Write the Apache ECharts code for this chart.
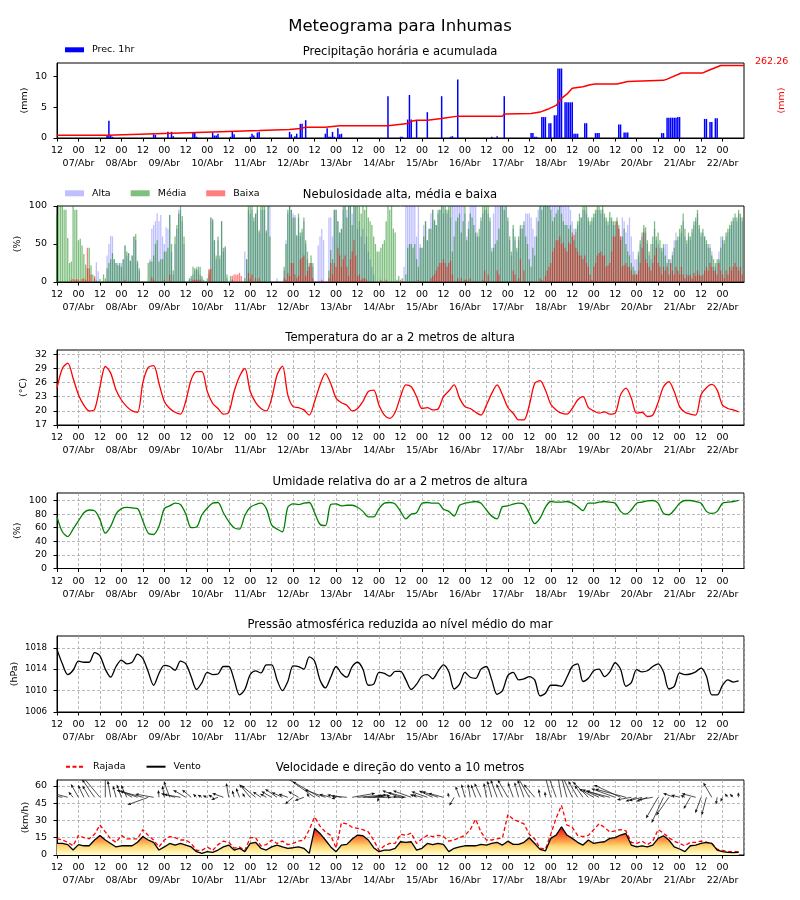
<!DOCTYPE html>
<html><head><meta charset="utf-8">
<script src="https://cdn.jsdelivr.net/npm/echarts@6/dist/echarts.min.js"></script>
<style>html,body{margin:0;padding:0;background:#fff}#c{width:800px;height:900px}</style>
</head><body><div id="c"></div>
<script>
// ---------------- DATA ----------------
const MAXH = 384;            // hours from 06/Abr 12:00
const STEP = 3;              // hours between samples of the line series
const hourLabels = ['12', '00'];
const dateLabels = ['07/Abr','08/Abr','09/Abr','10/Abr','11/Abr','12/Abr','13/Abr','14/Abr','15/Abr','16/Abr','17/Abr','18/Abr','19/Abr','20/Abr','21/Abr','22/Abr'];
const yTicksPrec = [0, 5, 10];
const yTicksCloud = [0, 50, 100];
const yTicksTemp = [17, 20, 23, 26, 29, 32];
const yTicksHum = [0, 20, 40, 60, 80, 100];
const yTicksPres = [1006, 1010, 1014, 1018];
const yTicksWind = [0, 15, 30, 45, 60];

const precipHours = [28,29,30,31,54,55,62,64,65,76,77,78,87,88,89,90,97,98,99,108,109,110,112,113,130,131,133,134,136,137,139,150,151,152,153,154,155,157,158,159,185,192,193,196,197,198,201,207,215,220,221,224,243,246,250,265,266,267,268,271,272,273,275,276,278,279,280,281,282,284,285,286,287,288,289,290,291,295,296,301,302,303,314,315,317,318,319,338,339,341,342,343,344,345,346,347,348,362,363,365,366,368,369];
const precipValues = [0.5,2.8,0.5,0.2,0.6,0.5,1.0,1.0,0.3,0.8,0.9,0.2,0.9,0.4,0.4,0.7,0.2,1.0,0.6,0.2,0.7,0.4,0.9,1.0,1.0,0.6,0.3,0.7,2.3,2.3,2.9,0.7,1.6,0.2,0.2,1.0,0.2,1.6,0.6,0.7,6.8,0.2,0.2,3.0,7.0,3.0,2.9,4.2,6.8,0.2,0.3,9.5,0.2,0.3,6.8,0.8,0.8,0.2,0.2,3.4,3.4,3.4,2.4,2.4,3.7,3.7,11.3,11.3,11.3,5.8,5.8,5.8,5.8,5.8,0.7,0.7,0.7,2.4,2.4,0.8,0.8,0.8,2.2,2.2,0.9,0.9,0.9,0.8,0.8,3.3,3.3,3.3,3.3,3.3,3.3,3.4,3.4,3.1,3.1,2.6,2.6,3.2,3.2];
const accumHours = [0,28,29,87,113,130,136,139,150,158,185,186,196,198,201,207,215,224,249,250,265,270,275,279,282,285,288,294,298,301,313,319,339,341,349,361,364,371,384];
const accumValues = [0,0,5.1,12.8,17.9,21.6,25.4,30.5,30.5,35.6,35.6,41.9,44.4,52.8,57,57,63.3,72.1,72.1,79.8,82.3,87.2,100,112.6,138.9,154.5,177,182.1,189.8,192.4,192.4,202.4,206.3,211,234.2,234.2,243.5,262.26,262.26];

// hourly cloud cover (%), one row per day starting 06/Abr 12h
const cloudHigh = [
0,0,0,0,0,0,0,0,0,0,0,0,0,0,0,0,0,0,0,0,0,0,26,14,
0,0,0,0,35,50,61,60,30,25,25,22,25,30,48,35,38,28,35,60,55,25,15,0,
0,0,0,0,30,70,75,80,90,80,88,60,50,72,70,88,40,10,50,70,95,95,80,50,
0,0,3,5,10,15,20,15,10,5,0,0,0,10,85,80,55,30,55,30,80,40,45,5,
0,0,0,0,0,0,0,0,0,40,30,95,90,95,80,90,95,65,95,95,95,65,100,100,
0,0,0,5,0,0,0,15,55,90,100,95,90,88,60,85,60,65,80,50,30,20,25,20,
0,0,48,60,70,55,0,0,85,85,60,95,95,80,65,70,95,100,95,100,100,90,100,100,
70,80,60,70,50,60,40,30,20,10,0,0,0,0,0,0,0,0,0,0,0,0,0,0,
0,0,20,100,100,100,100,100,100,60,100,50,45,75,80,55,70,90,95,80,75,90,95,100,
90,95,90,95,85,100,100,100,100,100,100,100,90,60,80,100,100,100,100,65,60,80,90,95,
95,90,80,45,90,100,100,100,100,100,100,100,80,55,35,70,55,40,55,70,75,75,90,90,
90,85,70,60,85,95,100,100,100,100,100,100,100,100,100,100,100,100,100,100,100,100,100,95,
80,70,65,75,80,85,95,95,90,80,75,80,85,90,95,95,90,95,85,80,75,85,80,75,
75,80,70,60,85,80,65,75,85,60,40,30,30,35,50,60,70,65,50,35,30,50,70,55,
50,45,40,45,50,50,30,30,40,55,65,55,60,65,80,60,50,60,55,65,75,80,90,70,
60,65,60,50,45,50,40,20,20,25,40,60,55,50,60,65,70,75,80,85,80,90,85,80];
const cloudMid = [
88,100,100,100,95,95,58,25,27,100,95,95,55,57,48,37,23,18,45,22,10,5,2,0,
4,0,10,5,18,25,30,38,30,25,22,25,20,30,48,40,38,28,35,60,63,28,18,0,
0,0,0,25,27,27,35,50,55,27,30,30,40,40,45,88,50,15,60,75,90,100,87,60,
0,0,5,8,20,18,17,20,20,8,3,0,5,15,85,83,55,35,60,35,80,45,47,10,
0,8,3,0,0,0,0,0,0,5,30,100,100,100,85,90,100,68,100,100,100,68,100,60,
0,0,0,0,0,0,0,20,50,95,100,95,85,85,62,90,65,70,85,55,40,25,35,25,
0,0,0,0,0,0,0,0,15,42,30,95,95,80,65,70,100,100,85,100,100,75,100,100,
100,100,90,100,95,100,85,80,75,60,50,40,40,45,50,55,80,100,95,100,70,65,3,8,
0,5,0,10,45,50,50,45,50,30,20,45,45,60,80,55,70,70,95,82,75,95,95,100,
100,100,95,100,100,40,60,80,85,90,65,80,100,55,70,90,85,75,65,60,70,85,100,100,
100,100,85,40,45,50,55,70,100,100,95,100,85,60,40,75,60,45,60,75,70,80,60,50,
30,20,45,35,60,80,100,95,100,100,100,100,95,80,85,90,95,100,90,80,75,75,70,75,
60,55,70,80,90,85,100,100,100,85,80,85,90,95,100,100,95,100,90,85,80,92,85,80,
80,85,75,55,60,70,50,40,35,25,20,15,10,40,55,65,75,72,55,40,50,60,80,60,
65,55,45,50,35,25,30,25,35,45,55,60,70,75,90,70,55,65,60,70,80,85,95,75,
65,70,60,55,50,45,35,30,25,30,30,45,60,55,65,70,75,80,85,90,85,95,90,85];
const cloudLow = [
0,0,0,0,0,0,0,0,3,4,3,4,3,0,4,5,3,45,18,10,0,8,0,0,
0,0,0,0,0,0,0,0,0,0,0,0,0,0,3,0,0,0,0,0,0,0,0,0,
0,0,0,0,0,6,3,0,0,0,0,0,3,0,0,10,0,0,0,0,0,0,0,0,
0,0,0,0,3,3,3,3,3,0,0,0,0,17,17,0,0,0,0,0,0,0,0,0,
0,0,8,10,10,10,12,8,0,0,0,12,5,10,0,5,0,5,0,0,0,0,0,0,
0,0,0,0,0,0,0,5,3,12,8,25,25,10,5,8,30,32,35,8,15,20,25,5,
0,0,0,0,3,0,0,0,5,25,10,25,20,45,35,20,30,35,20,8,30,40,55,35,
8,10,3,5,5,3,0,0,0,0,0,0,0,3,0,0,3,0,0,0,0,0,0,0,
3,0,0,0,0,0,0,0,0,0,3,0,0,0,0,0,0,5,8,10,15,20,25,25,
30,25,20,25,28,10,0,0,5,0,5,0,3,3,0,5,0,0,0,0,0,0,3,15,
0,10,0,0,0,0,15,10,0,0,0,0,0,0,0,15,10,0,5,30,0,15,0,0,
0,0,0,0,0,0,5,3,0,8,15,20,25,40,45,55,55,60,50,52,45,40,52,50,
65,62,45,40,35,35,30,35,25,20,10,3,20,25,35,38,40,35,35,20,22,25,40,60,
60,80,70,60,20,22,25,20,20,15,10,10,10,15,25,45,65,30,25,20,15,25,35,45,
25,20,10,20,15,20,10,25,15,10,20,15,10,20,10,5,10,8,10,5,12,8,15,10,
8,10,15,20,15,25,20,15,15,10,25,15,10,5,15,10,20,15,20,25,20,15,20,10];

// 3-hourly series, one row per day starting 06/Abr 12h
const temperature = [
24.8,29.0,30.1,26.9,23.4,21.2,20.0,20.3,
25.1,29.4,28.0,24.4,22.3,20.9,20.0,19.7,
26.0,29.2,29.6,25.8,22.0,20.5,19.7,19.3,
22.1,26.6,28.3,28.3,24.1,21.6,20.5,19.3,
19.7,24.1,27.3,29.0,24.1,21.8,20.5,20.0,
22.7,27.6,29.5,23.4,20.9,20.7,20.2,19.1,
22.0,25.5,27.9,25.8,22.7,21.7,21.2,20.0,
20.5,22.0,24.1,24.4,21.2,19.1,18.4,19.7,
23.0,25.5,25.1,23.0,20.5,20.7,20.2,20.4,
23.0,24.2,25.5,22.7,20.9,20.5,19.7,19.1,
21.2,23.7,25.5,23.4,20.7,19.5,18.1,18.1,
21.2,25.8,26.4,24.4,21.4,20.2,19.5,19.3,
20.5,22.3,23.0,20.7,20.0,19.5,19.8,19.3,
19.5,23.4,24.8,22.7,19.5,19.7,18.8,19.1,
21.8,25.1,26.2,24.1,20.9,19.7,19.3,19.1,
23.4,24.9,25.6,24.4,21.2,20.5,20.2,19.8];
const humidity = [
76,54,47,58,70,82,86,85,
72,52,62,80,88,90,89,88,
70,52,50,62,88,92,96,94,
80,60,61,79,89,96,97,82,
69,60,58,78,90,94,96,88,
64,58,54,90,95,94,96,97,
82,65,63,94,95,92,93,93,
90,84,76,76,88,96,97,95,
84,73,80,82,96,97,96,96,
87,84,77,93,96,97.5,98.5,96,
86,77,73,91,92,94.6,96,94.6,
81,66,74,90,98.5,97.5,97.5,98.5,
96,91,85,96,96,97.5,98.5,97.5,
96,84,80,86,96,97.5,99.5,100,
96,81,79,86,96,100,100,98.5,
96,84,81,84,96,97.5,98.5,100];
const pressure = [
1017.7,1015.0,1013.0,1013.8,1015.5,1015.3,1015.3,1017.1,
1016.5,1014.0,1012.5,1014.5,1015.7,1015.0,1015.3,1016.8,
1016.0,1013.5,1011.0,1013.2,1014.7,1014.5,1013.8,1015.5,
1015.0,1012.6,1010.2,1011.5,1013.4,1013.0,1013.1,1014.5,
1014.5,1012.0,1009.2,1010.2,1013.0,1013.7,1013.3,1014.8,
1014.8,1012.0,1010.0,1011.7,1014.6,1014.5,1014.0,1016.3,
1015.5,1012.0,1010.5,1012.5,1014.5,1013.2,1012.5,1014.5,
1015.3,1014.0,1011.0,1011.2,1013.4,1013.2,1012.7,1013.6,
1013.6,1012.0,1010.2,1011.2,1012.7,1013.0,1012.2,1013.6,
1014.8,1013.5,1010.3,1011.2,1013.4,1012.5,1012.3,1014.0,
1014.5,1012.0,1009.3,1010.0,1012.8,1013.4,1012.0,1012.2,
1012.6,1012.0,1009.0,1009.5,1011.0,1011.0,1010.8,1012.5,
1014.5,1015.0,1011.7,1012.3,1013.7,1014.0,1012.6,1013.5,
1015.2,1014.0,1010.8,1011.5,1013.9,1013.5,1013.7,1014.5,
1015.0,1013.5,1010.3,1010.8,1013.3,1013.0,1013.1,1013.5,
1014.2,1012.7,1009.2,1009.2,1011.0,1012.0,1011.6,1011.8];
const windSpeed = [
10,10,9,4.3,9,8,8,13,
17,13,10,7,8,8,8,11,
16,13,11,4.3,7,10,8.6,10,
8.6,7,2.9,1.4,2.9,2.3,4.3,7,
8.6,4.3,5.8,2.9,10,11,5.8,4.3,
7,8.6,7,5.8,6.3,7,5.8,1.4,
23,18.7,13,7,2.9,8.6,9.2,13.8,
17.3,16.7,13,6.3,2.9,4.3,4.3,5.8,
11.5,11,11.5,4.3,5.8,10,9,10,
9.2,2.9,5.8,7,8,8,8,9.2,
8.6,10,11,8.6,12,9.2,9.2,11,
15,10,4.9,3.5,14.4,17.3,24.5,17.3,
14.4,11,8.6,13,10,11,11.5,14.4,
15,17.3,18.7,8.6,7,8,7,8.6,
14.4,16.7,13,7,5.2,2.9,8,8.6,
10,11,10,4.3,2.9,2.3,2,2.3];
const windGust = [
14,13,11,8,17,15,14,18,
26,20,14,11,17,14,14,14,
22,17,13,7,13,16,15,13,
13,10,4,4,7,4,9,12,
11,6,7,4,15,15,8,9,
13,10,12,9,10,12,13,22,
33,25,20,17,6,28,27,24,
23,22,20,13,4,8,10,10,
18,17,19,10,14,17,16,17,
16,12,13,15,17,22,31,20,
13,13,14,15,35,31,29,27,
18,14,6,5,18,32,43,26,
24,17,16,17,22,27,24,20,
21,22,21,11,10,12,9,12,
22,19,15,12,10,8,11,11,
12,11,10,5,4,3,3,3];
// drawn arrow direction (degrees, 0 = east, 90 = up)
const windArrowDir = [
175,170,165,130,120,115,120,125,
130,90,100,105,110,115,150,160,
165,200,170,95,100,110,165,170,
150,140,135,150,160,150,200,160,
100,105,110,120,130,140,145,150,
150,145,155,160,220,150,200,120,
145,150,160,165,200,170,175,10,
5,0,5,10,250,160,5,0,
160,165,160,155,165,160,155,160,
165,100,240,110,105,100,110,115,
100,105,110,115,120,110,105,110,
120,130,100,95,105,110,100,105,
115,120,125,135,150,155,160,165,
160,155,165,190,200,195,200,190,
240,245,235,160,165,155,240,165,
250,255,120,260,245,130,135,95];

// ---------------- CHART ----------------
const FONT = 'DejaVu Sans';
const ARROW_Y = 50;
const ARROW_SCALE = 1.7;
const GRID_TOPS = [63, 206, 350, 493, 636, 780];
const GRID_H = [75, 76, 75, 75.5, 76, 75];
const dateTicks = dateLabels.map((d, i) => 12 + 24 * i);

function hourLabel(v) {
  if (v >= MAXH) return '';
  return hourLabels[Math.round(v / 12) % 2];
}
const gridLine = {color: '#a8a8a8', type: [3, 2], width: 0.8};
function xAxisFor(i) {
  return {type: 'value', gridIndex: i, position: 'bottom', min: 0, max: MAXH, interval: 12,
    axisLine: {show: true, onZero: false, lineStyle: {color: '#000', width: 1}},
    axisTick: {show: true, length: 3.5, lineStyle: {color: '#000'}},
    axisLabel: {formatter: hourLabel, fontSize: 9.5, color: '#000', margin: 8, fontFamily: FONT,
      showMinLabel: true, showMaxLabel: false},
    splitLine: {show: i >= 2, lineStyle: gridLine}};
}
function dateAxisFor(i) {
  return {type: 'value', gridIndex: i, position: 'bottom', min: 0, max: MAXH,
    axisLine: {show: false, onZero: false}, axisTick: {show: false}, splitLine: {show: false},
    axisLabel: {customValues: dateTicks, formatter: v => dateLabels[Math.round((v - 12) / 24)],
      fontSize: 9.5, color: '#000', margin: 20.8, fontFamily: FONT}};
}
function yAxisFor(i, min, max, interval, ticks, name, gap, fs) {
  return {type: 'value', gridIndex: i, min: min, max: max, interval: interval,
    axisLine: {show: true, onZero: false, lineStyle: {color: '#000', width: 1}},
    axisTick: {show: true, length: 3.5, customValues: ticks, lineStyle: {color: '#000'}},
    axisLabel: {customValues: ticks, formatter: v => String(v), fontSize: fs || 9.5, color: '#000', margin: 10, fontFamily: FONT},
    splitLine: {show: i >= 2, lineStyle: gridLine},
    name: name, nameLocation: 'middle', nameRotate: 90, nameGap: gap, nameMoveOverlap: false,
    nameTextStyle: {fontSize: 9.5, color: '#000', fontFamily: FONT}};
}
function titleAt(text, top, size) {
  return {text: text, left: 'center', top: top, padding: 0,
    textStyle: {fontSize: size, fontWeight: 'normal', color: '#000', fontFamily: FONT}};
}
const legendBase = {padding: 0, itemGap: 20, itemWidth: 19, selectedMode: false,
  textStyle: {fontSize: 9.5, color: '#000', fontFamily: FONT, padding: [0, 0, 0, 3], lineHeight: 12}};

const precipData = precipHours.map((h, i) => [h, precipValues[i]]);
const accumData = accumHours.map((h, i) => [h, accumValues[i]]);
const hourly = arr => arr.map((v, i) => [i, v]);
const sampled = arr => arr.map((v, i) => [i * STEP, v]);
const arrowData = windArrowDir.map((d, i) => [i * STEP, ARROW_Y, windSpeed[i], d]);

const windFill = new echarts.graphic.LinearGradient(0, 855, 0, 826, [
  {offset: 0, color: '#ffffcc'}, {offset: 0.3, color: '#fed976'},
  {offset: 0.55, color: '#fd8d3c'}, {offset: 0.8, color: '#f03b20'},
  {offset: 1, color: '#bd0026'}], true);

function arrowItem(params, api) {
  const p = api.coord([api.value(0), api.value(1)]);
  const len = Math.max(5, api.value(2) * ARROW_SCALE);
  const a = api.value(3) * Math.PI / 180;
  const ux = Math.cos(a), uy = -Math.sin(a);
  const x2 = p[0] + len * ux, y2 = p[1] + len * uy;
  const hl = 3.4, hw = 1.4;
  const bx = x2 - hl * ux, by = y2 - hl * uy;
  return {type: 'group', children: [
    {type: 'line', shape: {x1: p[0], y1: p[1], x2: bx, y2: by}, style: {stroke: '#222', lineWidth: 0.8}},
    {type: 'polygon', shape: {points: [[x2, y2], [bx - hw * uy, by + hw * ux], [bx + hw * uy, by - hw * ux]]}, style: {fill: '#111'}}
  ]};
}

const chart = echarts.init(document.getElementById('c'), null, {renderer: 'canvas', width: 800, height: 900});
const option = {
  animation: false,
  backgroundColor: '#fff',
  textStyle: {fontFamily: FONT},
  title: [
    titleAt('Meteograma para Inhumas', 18, 16.5),
    titleAt('Precipitação horária e acumulada', 46, 11.6),
    titleAt('Nebulosidade alta, média e baixa', 189.3, 11.6),
    titleAt('Temperatura do ar a 2 metros de altura', 332.3, 11.6),
    titleAt('Umidade relativa do ar a 2 metros de altura', 475.7, 11.6),
    titleAt('Pressão atmosférica reduzida ao nível médio do mar', 619, 11.6),
    titleAt('Velocidade e direção do vento a 10 metros', 762.3, 11.6)
  ],
  legend: [
    Object.assign({}, legendBase, {data: [{name: 'Prec. 1hr', icon: 'rect'}], left: 65, top: 43.8, itemHeight: 5}),
    Object.assign({}, legendBase, {data: [{name: 'Alta', icon: 'rect'}, {name: 'Média', icon: 'rect'}, {name: 'Baixa', icon: 'rect'}], left: 65, top: 187.3, itemHeight: 6}),
    Object.assign({}, legendBase, {data: ['Rajada', 'Vento'], left: 65, top: 760.7, itemHeight: 6,
      itemStyle: {opacity: 0, borderWidth: 0}})
  ],
  grid: GRID_TOPS.map((t, i) => ({left: 57, right: 56, top: t, height: GRID_H[i], show: true,
    borderColor: '#000', borderWidth: 1, backgroundColor: 'transparent', containLabel: false, outerBoundsMode: 'none'})),
  xAxis: [0, 1, 2, 3, 4, 5].map(xAxisFor).concat([0, 1, 2, 3, 4, 5].map(dateAxisFor)),
  yAxis: [
    yAxisFor(0, 0, 12.2, 5, yTicksPrec, '(mm)', 27.5),
    {type: 'value', gridIndex: 0, position: 'right', min: -10, max: 271.5,
      axisLine: {show: false}, axisTick: {show: false}, axisLabel: {show: false}, splitLine: {show: false},
      name: '(mm)', nameLocation: 'middle', nameRotate: 90, nameGap: 33,
      nameTextStyle: {fontSize: 9.5, color: '#ff0000', fontFamily: FONT}},
    yAxisFor(1, 0, 100, 50, yTicksCloud, '(%)', 34),
    yAxisFor(2, 17, 32.9, 3, yTicksTemp, '(°C)', 28.5),
    yAxisFor(3, 0, 111, 20, yTicksHum, '(%)', 34),
    yAxisFor(4, 1006, 1020.2, 4, yTicksPres, '(hPa)', 37, 8.7),
    yAxisFor(5, 0, 65, 15, yTicksWind, '(km/h)', 26.5)
  ],
  series: [
    {name: 'Prec. 1hr', type: 'bar', xAxisIndex: 0, yAxisIndex: 0, data: precipData, barWidth: 1.5,
      itemStyle: {color: '#0000ff'}},
    {name: 'Acumulada', type: 'line', xAxisIndex: 0, yAxisIndex: 1, data: accumData, symbol: 'none',
      lineStyle: {color: '#ff0000', width: 1.5}, z: 5},
    {name: 'Alta', type: 'bar', xAxisIndex: 1, yAxisIndex: 2, data: hourly(cloudHigh), barWidth: 1.3, barGap: '-100%',
      itemStyle: {color: 'rgba(0,0,255,0.25)'}},
    {name: 'Média', type: 'bar', xAxisIndex: 1, yAxisIndex: 2, data: hourly(cloudMid), barWidth: 1.3, barGap: '-100%',
      itemStyle: {color: 'rgba(0,128,0,0.5)'}},
    {name: 'Baixa', type: 'bar', xAxisIndex: 1, yAxisIndex: 2, data: hourly(cloudLow), barWidth: 1.3, barGap: '-100%',
      itemStyle: {color: 'rgba(255,0,0,0.5)'}},
    {name: 'Temperatura', type: 'line', xAxisIndex: 2, yAxisIndex: 3, data: sampled(temperature), symbol: 'none',
      smooth: 0.3, lineStyle: {color: '#ff0000', width: 1.3}},
    {name: 'Umidade', type: 'line', xAxisIndex: 3, yAxisIndex: 4, data: sampled(humidity), symbol: 'none',
      smooth: 0.3, lineStyle: {color: '#008000', width: 1.3}},
    {name: 'Pressão', type: 'line', xAxisIndex: 4, yAxisIndex: 5, data: sampled(pressure), symbol: 'none',
      smooth: 0.3, lineStyle: {color: '#000', width: 1.3}},
    {name: 'VentoArea', type: 'line', xAxisIndex: 5, yAxisIndex: 6, data: sampled(windSpeed), symbol: 'none',
      lineStyle: {width: 0, opacity: 0}, areaStyle: {color: windFill, opacity: 1}, silent: true, z: 1},
    {name: 'Rajada', type: 'line', xAxisIndex: 5, yAxisIndex: 6, data: sampled(windGust), symbol: 'none',
      lineStyle: {color: '#ff0000', width: 1.3, type: [4, 2.5]}, itemStyle: {color: '#ff0000'}, z: 3},
    {name: 'Vento', type: 'line', xAxisIndex: 5, yAxisIndex: 6, data: sampled(windSpeed), symbol: 'none',
      lineStyle: {color: '#000', width: 1.3}, itemStyle: {color: '#000'}, z: 4},
    {name: 'Direção', type: 'custom', xAxisIndex: 5, yAxisIndex: 6, data: arrowData, renderItem: arrowItem,
      encode: {x: 0, y: 1}, clip: true, silent: true, z: 5}
  ]
};
chart.setOption(option);

// label with the final accumulated value, placed via the axis scales
const lastIdx = accumHours.length - 1;
const endPx = chart.convertToPixel({xAxisIndex: 0, yAxisIndex: 1}, [accumHours[lastIdx], accumValues[lastIdx]]);
chart.setOption({graphic: [{type: 'text', x: endPx[0] + 11, y: endPx[1] - 4,
  style: {text: accumValues[lastIdx].toFixed(2), fill: '#ff0000', font: '9.5px "DejaVu Sans"',
    textAlign: 'left', textVerticalAlign: 'middle'}}]});
</script>
</body></html>
